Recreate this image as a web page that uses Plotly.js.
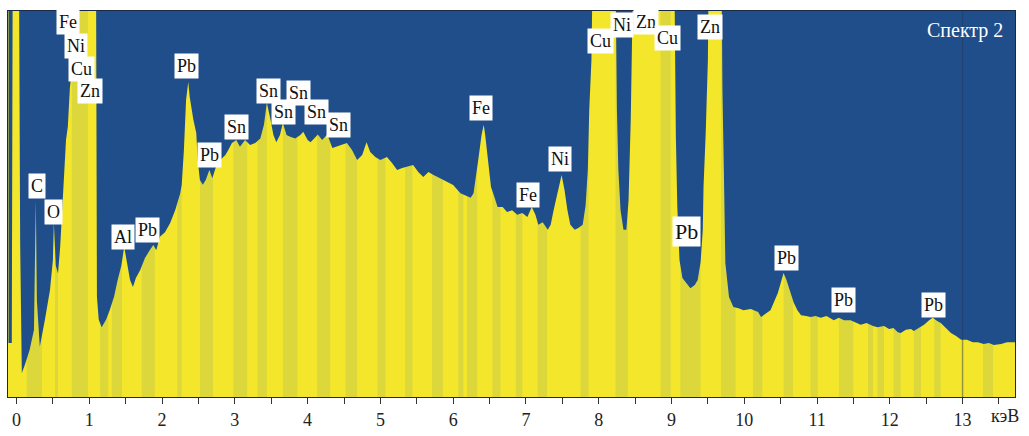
<!DOCTYPE html>
<html><head><meta charset="utf-8">
<script src="https://cdn.plot.ly/plotly-3.0.1.min.js"></script>
<style>html,body{margin:0;padding:0;background:#fff;}#chart{width:1029px;height:436px;}</style>
</head><body><div id="chart"></div>
<script>
// Energy (keV) and intensity (relative, 100 = top of frame; clipped peaks > 100)
const energy = [-0.11,-0.065,-0.05,0.03,0.05,0.073,0.114,0.18,0.24,0.265,0.28,0.32,0.39,0.46,0.5,0.513,0.54,0.57,0.6,0.64,0.68,0.705,0.733,0.76,0.79,0.816,1.09,
1.105,1.13,1.17,1.23,1.28,1.34,1.39,1.44,1.48,1.52,1.56,1.6,1.64,1.7,1.765,1.83,1.88,1.92,1.97,2.04,2.11,2.18,2.25,2.27,2.3,2.33,2.36,2.38,2.43,2.47,2.49,2.52,2.56,2.6,2.65,2.69,2.74,2.8,2.87,2.91,2.96,3.02,3.07,3.14,3.21,3.28,3.35,3.4,3.44,3.49,3.53,3.57,3.62,3.66,3.71,3.76,3.83,3.9,3.94,4.0,4.04,4.09,4.14,4.2,4.27,4.34,4.41,4.47,4.54,4.61,4.68,4.75,4.81,4.86,4.93,5.0,5.09,5.16,5.23,5.3,5.37,5.45,5.52,5.59,5.66,5.73,5.82,5.92,6.0,6.1,6.17,6.24,6.28,6.32,6.35,6.39,6.42,6.44,6.47,6.5,6.52,6.57,6.61,6.68,6.74,6.81,6.88,6.95,7.02,7.08,7.13,7.17,7.23,7.3,7.34,7.38,7.43,7.49,7.53,7.57,7.61,7.67,7.72,7.78,7.82,7.85,7.87,7.9,7.93,8.22,8.25,8.27,8.3,8.34,8.38,8.41,8.44,8.46,8.49,9.03,9.06,9.08,9.11,9.15,9.21,9.26,9.32,9.36,9.4,9.43,9.44,9.47,9.5,9.52,9.68,9.7,9.72,9.74,9.79,9.85,9.92,9.99,10.09,10.19,10.23,10.29,10.36,10.42,10.46,10.5,10.54,10.58,10.62,10.68,10.73,10.78,10.85,10.91,10.98,11.05,11.13,11.23,11.3,11.37,11.46,11.53,11.6,11.68,11.77,11.83,11.92,11.99,12.05,12.11,12.15,12.22,12.29,12.33,12.4,12.47,12.54,12.59,12.65,12.7,12.77,12.84,12.91,12.98,13.06,13.14,13.21,13.29,13.36,13.43,13.53,13.61,13.71,13.76];
const counts = [14,14,130,130,40,6.2,8.3,12.2,17.4,51,25,13,20,27.7,35.5,45,34,32,38.9,53.6,66.6,70,80,84.7,92.5,130,130,
26,20,18.1,20,22.5,26,30.3,34,38.9,34,30.3,28.5,30.8,32.9,36,38,39.4,38,41.5,42.7,45,48.4,52.8,55,64,77,81.6,77.7,71.8,68.4,61.4,56.2,55,56.2,58.8,56.7,59.6,61.4,62.7,64,65.8,66.6,64.8,66.6,65.3,65.8,67,70.5,76.2,71.8,67.9,66,67.9,71,67.9,67.4,67,67.9,68.7,66.6,66,67,68,66.6,68,64.5,65,65.3,65.8,64,61.4,62.7,66,63.5,62.2,61.4,62.2,60.6,58.8,59.3,59.6,60.1,58.3,57,58.3,57.5,56.7,55.7,54.9,52.8,52.3,51.6,52.8,57.5,62.2,67.9,70.5,67.9,63.2,57.5,54.4,51.6,49.2,49.2,47.9,48.4,47.2,47.7,46.6,49.2,47.2,44.6,45.3,43.3,44.6,48.4,52.3,57.5,53.6,48.4,44.6,43.3,43.8,44.6,49.7,58.8,74.4,87.3,130,130,74.4,58.8,48.4,43.3,43.3,51,71.8,87.3,130,130,67.4,49.2,35.5,30.8,29.5,28.2,29,30.3,35,43.3,54.4,68.4,87.3,130,130,79.5,58,34.7,25.9,23.3,23,22.5,22.8,22,20.7,21.5,22.5,25.1,26.9,29.5,32.1,30.3,27.7,24.4,22.5,21.2,21,20.7,21,20.5,21,19.9,20.5,19.9,19.9,19.4,18.7,19.2,18.4,18.1,18.4,17.6,17.9,16.8,16.6,17.4,17.6,17.1,17.9,18.7,19.9,20.5,19.7,19.2,17.9,16.6,15.8,14.8,14.8,14.2,14.2,13.7,14,13.5,13.7,14.2,14.2,14.2];

// Peak labels
const labelText  = ['Fe','Ni','Cu','Zn','C','O','Al','Pb','Pb','Pb','Sn','Sn','Sn','Sn','Sn','Sn','Fe','Fe','Ni','Cu','Ni','Zn','Cu','Zn','Pb','Pb','Pb','Pb'];
const labelKeV   = [0.706,0.816,0.898,1.008,0.279,0.513,1.462,1.806,2.329,2.645,3.017,3.457,3.664,3.87,4.117,4.42,6.387,7.034,7.474,8.025,8.313,8.643,8.946,9.524,9.207,10.583,11.367,12.605];
const labelLevel = [97.2,90.9,85,79.3,54.7,47.9,41.5,43.3,85.8,62.7,69.9,79.3,73.8,78.8,73.8,70.5,74.9,52.3,61.7,92.2,96.4,97.2,93,95.9,43,36,25.1,23.8];
const bigLabel = 24; // index of the larger "Pb" label

// Scan-texture bands (keV start, keV end) of the darker yellow stripes in the filled area
const bandStart = [0.14,0.53,0.76,1.15,1.31,1.72,2.21,2.52,2.98,3.31,3.66,4.13,4.52,4.96,5.34,5.71,6.07,6.19,6.54,6.86,7.16,7.75,8.23,8.85,9.12,9.68,10.12,10.54,10.91,11.30,11.70,11.83,12.05,12.33,12.61,12.98,13.28];
const bandEnd   = [0.35,0.57,0.98,1.26,1.45,1.90,2.27,2.70,3.17,3.44,3.86,4.31,4.68,5.07,5.44,5.86,6.14,6.33,6.65,6.95,7.29,7.86,8.40,8.99,9.40,9.88,10.25,10.67,11.01,11.50,11.77,11.92,12.15,12.43,12.70,13.02,13.42];

const tickVals = [];
const tickText = [];
for (let i = 0; i <= 27; i++) { tickVals.push(i * 0.5); tickText.push(i % 2 === 0 ? String(i / 2) : ''); }

const BLUE = '#1f4e8b';
const YELLOW = '#f4e62b';
const STRIPE = '#dcd83c';
const serif = '"Liberation Serif", "Times New Roman", serif';

const annotations = labelText.map((t, i) => ({
  x: labelKeV[i], y: labelLevel[i], xref: 'x', yref: 'y', text: t, showarrow: false,
  bgcolor: '#ffffff', borderpad: 2,
  font: {family: serif, size: i === bigLabel ? 22 : 18, color: '#111'}
}));
annotations.push({xref: 'paper', yref: 'paper', x: 0.99, y: 0.985, xanchor: 'right', yanchor: 'top',
  text: 'Спектр 2', showarrow: false, font: {family: serif, size: 20, color: '#ffffff'}});
annotations.push({xref: 'paper', yref: 'paper', x: 0.99, y: -0.049, xanchor: 'center', yanchor: 'middle',
  text: 'кэВ', showarrow: false, font: {family: serif, size: 18, color: '#222'}});

const shapes = bandStart.map((s, i) => ({type: 'rect', xref: 'x', yref: 'paper', x0: s, x1: bandEnd[i], y0: 0, y1: 1,
  fillcolor: STRIPE, line: {width: 0}, layer: 'below'}));
shapes.push({type: 'line', xref: 'x', yref: 'paper', x0: 13, x1: 13, y0: 0, y1: 1,
  line: {color: 'rgba(40,50,70,0.45)', width: 1}, layer: 'above'});

// Spectrum outline; the area above it is covered in blue, leaving the yellow textured fill below
const spectrum = {x: energy, y: counts, type: 'scatter', mode: 'lines',
  line: {color: 'rgba(0,0,0,0)', width: 0}, hoverinfo: 'skip'};
const sky = {x: energy, y: energy.map(() => 150), type: 'scatter', mode: 'lines', fill: 'tonexty',
  fillcolor: BLUE, line: {color: 'rgba(0,0,0,0)', width: 0}, hoverinfo: 'skip'};

const layout = {
  width: 1029, height: 436,
  margin: {l: 8, r: 14, t: 11, b: 39},
  paper_bgcolor: '#ffffff', plot_bgcolor: YELLOW,
  showlegend: false,
  xaxis: {range: [-0.117, 13.72], tickmode: 'array', tickvals: tickVals, ticktext: tickText,
    ticks: 'outside', ticklen: 6, tickcolor: '#333', tickwidth: 1,
    showgrid: false, zeroline: false, showline: true, linecolor: '#1b2a44', linewidth: 1, mirror: true,
    tickfont: {family: serif, size: 18, color: '#222'}},
  yaxis: {range: [0, 100], showticklabels: false, ticks: '', showgrid: false, zeroline: false,
    showline: true, linecolor: '#1b2a44', linewidth: 1, mirror: true},
  shapes: shapes,
  annotations: annotations
};

Plotly.newPlot('chart', [spectrum, sky], layout, {displayModeBar: false, staticPlot: true});
</script></body></html>
